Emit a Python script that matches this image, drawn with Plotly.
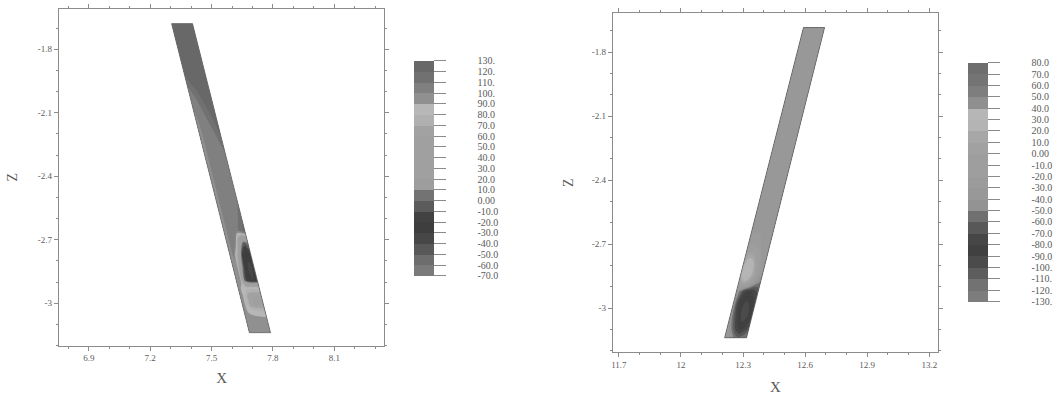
import plotly.graph_objects as go

# ---------------- data: left panel ----------------
L_top_x = [7.305, 7.407]      # band top edge x (left, right)
L_bot_x = [7.685, 7.788]      # band bottom edge x (left, right)
L_top_z = -1.679
L_bot_z = -3.139
L_a = [0.0, 0.2, 0.4, 0.6, 0.8, 1.0]          # across band (left -> right edge)
L_b = [0.00, 0.14, 0.19, 0.24, 0.30, 0.36, 0.42, 0.50, 0.56, 0.62, 0.67,
       0.71, 0.75, 0.79, 0.83, 0.855, 0.88, 0.91, 0.93, 0.96, 1.00]  # along band (top -> bottom)
L_val = [
    [125, 125, 125, 125, 125, 125],
    [125, 125, 125, 125, 125, 125],
    [112, 122, 125, 125, 125, 125],
    [103, 108, 116, 123, 125, 125],
    [99, 102, 106, 113, 121, 125],
    [98, 101, 102, 105, 111, 120],
    [98, 101, 101, 102, 105, 110],
    [98, 101, 101, 102, 104, 107],
    [98, 101, 101, 102, 104, 107],
    [98, 101, 101, 103, 108, 116],
    [98, 101, 101, 105, 114, 124],
    [98, 101, 101, 40, -5, 10],
    [98, 101, 60, -20, -28, -20],
    [98, 98, 20, -28, -32, -28],
    [98, 95, 0, -25, -30, -25],
    [98, 85, 84, 84, 84, 84],
    [98, 86, 65, 60, 60, 60],
    [98, 86, 65, 60, 60, 60],
    [98, 88, 84, 82, 80, 78],
    [98, 98, 97, 96, 96, 96],
    [98, 98, 98, 98, 98, 98],
]
L_xticks = [6.9, 7.2, 7.5, 7.8, 8.1]
L_xtext = ["6.9", "7.2", "7.5", "7.8", "8.1"]
L_zticks = [-1.8, -2.1, -2.4, -2.7, -3.0]
L_ztext = ["-1.8", "-2.1", "-2.4", "-2.7", "-3"]
L_cb_vals = [130, 120, 110, 100, 90, 80, 70, 60, 50, 40, 30, 20, 10, 0,
             -10, -20, -30, -40, -50, -60, -70]
L_cb_text = ["130.", "120.", "110.", "100.", "90.0", "80.0", "70.0", "60.0", "50.0",
             "40.0", "30.0", "20.0", "10.0", "0.00", "-10.0", "-20.0", "-30.0",
             "-40.0", "-50.0", "-60.0", "-70.0"]
L_levels = dict(start=-70, end=130, size=10)

# ---------------- data: right panel ----------------
R_top_x = [12.592, 12.694]
R_bot_x = [12.211, 12.317]
R_top_z = -1.684
R_bot_z = -3.138
R_a = [0.0, 0.2, 0.4, 0.6, 0.8, 1.0]
R_b = [0.00, 0.40, 0.65, 0.70, 0.75, 0.79, 0.82, 0.85, 0.89, 0.93, 0.97, 1.00]
R_val = [
    [-33, -33, -33, -33, -33, -33],
    [-33, -33, -33, -33, -33, -33],
    [-33, -33, -33, -33, -33, -33],
    [-25, -18, -22, -30, -33, -33],
    [10, 26, 20, -5, -30, -33],
    [20, 36, 34, 10, -25, -33],
    [0, 18, 15, -10, -40, -50],
    [-33, -55, -78, -82, -76, -66],
    [-35, -75, -88, -92, -88, -76],
    [-35, -65, -86, -95, -90, -80],
    [-33, -50, -72, -85, -78, -66],
    [-33, -38, -50, -58, -54, -48],
]
R_xticks = [11.7, 12.0, 12.3, 12.6, 12.9, 13.2]
R_xtext = ["11.7", "12", "12.3", "12.6", "12.9", "13.2"]
R_zticks = [-1.8, -2.1, -2.4, -2.7, -3.0]
R_ztext = ["-1.8", "-2.1", "-2.4", "-2.7", "-3"]
R_cb_vals = [80, 70, 60, 50, 40, 30, 20, 10, 0, -10, -20, -30, -40, -50, -60,
             -70, -80, -90, -100, -110, -120, -130]
R_cb_text = ["80.0", "70.0", "60.0", "50.0", "40.0", "30.0", "20.0", "10.0", "0.00",
             "-10.0", "-20.0", "-30.0", "-40.0", "-50.0", "-60.0", "-70.0", "-80.0",
             "-90.0", "-100.", "-110.", "-120.", "-130."]
R_levels = dict(start=-130, end=80, size=10)

# ---------------- styles ----------------
# grey level of each contour band, from lowest band upward
L_band_grey = [122, 100, 80, 66, 60, 68, 96, 118, 160, 160, 160, 160, 160, 160,
               170, 195, 150, 132, 120, 104]
R_band_grey = [125, 105, 85, 70, 62, 72, 92, 115, 150, 152, 155, 158, 158, 160,
               165, 175, 195, 150, 130, 120, 110]
FONT = "Liberation Serif"
TXT = "#5a5a5a"
LINE = "#8c8c8c"
PAD = "\u2003\u2003\u2003"


def grey(g):
    return f"rgb({g},{g},{g})"


def stepped_scale(greys, start, size):
    n = len(greys)
    lo = start - size / 2
    hi = start + (n + 0.5) * size
    scale = [[0.0, grey(greys[0])]]
    for k, g in enumerate(greys):
        v = start + (k + 0.5) * size
        scale.append([(v - lo) / (hi - lo), grey(g)])
    scale.append([1.0, grey(greys[-1])])
    return scale


def band_grid(top_x, bot_x, top_z, bot_z, a, b):
    X, Y = [], []
    for bj in b:
        xl = top_x[0] + bj * (bot_x[0] - top_x[0])
        xr = top_x[1] + bj * (bot_x[1] - top_x[1])
        zz = top_z + bj * (bot_z - top_z)
        X.append([xl + ai * (xr - xl) for ai in a])
        Y.append([zz for _ in a])
    return X, Y


carpet_axis = dict(showgrid=False, showticklabels="none", showline=False,
                   startline=True, endline=True, startlinecolor="#6a6a6a",
                   endlinecolor="#6a6a6a", startlinewidth=0.8, endlinewidth=0.8,
                   smoothing=0, minorgridcount=0)

fig = go.Figure()

panels = [
    ("c1", "x", "y", L_top_x, L_bot_x, L_top_z, L_bot_z, L_a, L_b, L_val, L_levels,
     L_band_grey, L_cb_vals, L_cb_text, 413, 63, 278),
    ("c2", "x2", "y2", R_top_x, R_bot_x, R_top_z, R_bot_z, R_a, R_b, R_val, R_levels,
     R_band_grey, R_cb_vals, R_cb_text, 968, 65, 304),
]

for (cid, xa, ya, tx, bx, tz, bz, a, b, val, lev, greys, cbv, cbt, cbx, cbt0, cbb) in panels:
    X, Y = band_grid(tx, bx, tz, bz, a, b)
    fig.add_trace(go.Carpet(a=a, b=b, x=X, y=Y, carpet=cid, xaxis=xa, yaxis=ya,
                            aaxis=carpet_axis, baxis=carpet_axis))
    fig.add_trace(go.Contourcarpet(
        a=a, b=b, z=val, carpet=cid, xaxis=xa, yaxis=ya,
        autocontour=False,
        contours=dict(start=lev["start"], end=lev["end"], size=lev["size"],
                      coloring="fill", showlines=False),
        line=dict(width=0),
        colorscale=stepped_scale(greys, lev["start"], lev["size"]),
        zauto=False, zmin=lev["start"], zmax=lev["end"],
        colorbar=dict(
            x=cbx / 1058, xanchor="left", xref="paper",
            y=1 - (cbt0 + cbb) / 2 / 395, yanchor="middle", yref="paper",
            len=cbb - cbt0, lenmode="pixels", thickness=20, thicknessmode="pixels",
            xpad=0, ypad=0, outlinewidth=0,
            ticks="outside", ticklen=12, tickwidth=1, tickcolor="#8a8a8a",
            tickmode="array", tickvals=cbv, ticktext=[PAD + t for t in cbt],
            tickfont=dict(family=FONT, size=10, color=TXT),
        ),
    ))

axis_common = dict(showline=True, linecolor=LINE, linewidth=1, mirror="ticks",
                   ticks="outside", ticklen=4, tickcolor=LINE, showgrid=False,
                   zeroline=False, tickmode="array",
                   tickfont=dict(family=FONT, size=9, color=TXT))


def minor(t0):
    return dict(tickmode="linear", tick0=t0, dtick=0.1, ticks="outside",
                ticklen=2, tickcolor=LINE)


fig.update_layout(
    width=1058, height=395, margin=dict(l=0, r=0, t=0, b=0),
    paper_bgcolor="white", plot_bgcolor="white", showlegend=False,
    font=dict(family=FONT, color=TXT),
    xaxis=dict(**axis_common, domain=[57 / 1058, 383 / 1058], range=[6.754, 8.344],
               anchor="y", tickvals=L_xticks, ticktext=L_xtext, minor=minor(6.9),
               title=dict(text="X", font=dict(family=FONT, size=15, color=TXT), standoff=10)),
    yaxis=dict(**axis_common, domain=[1 - 350 / 395, 1 - 9 / 395], range=[-3.2, -1.609],
               anchor="x", tickvals=L_zticks, ticktext=L_ztext, minor=minor(-1.8),
               title=dict(text="Z", font=dict(family=FONT, size=14, color=TXT), standoff=16)),
    xaxis2=dict(**axis_common, domain=[612 / 1058, 938 / 1058], range=[11.671, 13.243],
                anchor="y2", tickvals=R_xticks, ticktext=R_xtext, minor=minor(11.7),
                title=dict(text="X", font=dict(family=FONT, size=15, color=TXT), standoff=14)),
    yaxis2=dict(**axis_common, domain=[1 - 357 / 395, 1 - 13 / 395], range=[-3.207, -1.615],
                anchor="x2", tickvals=R_zticks, ticktext=R_ztext, minor=minor(-1.8),
                title=dict(text="Z", font=dict(family=FONT, size=14, color=TXT), standoff=14)),
)

fig.write_html("out.html")
